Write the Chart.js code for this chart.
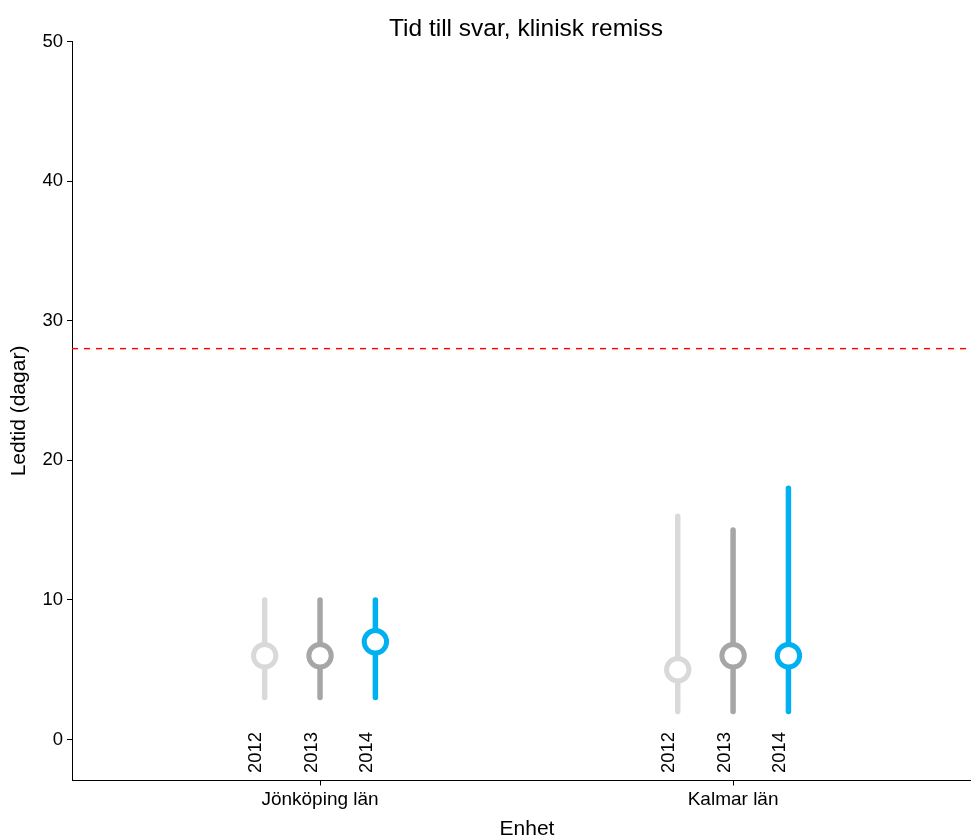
<!DOCTYPE html>
<html>
<head>
<meta charset="utf-8">
<script src="https://cdn.jsdelivr.net/npm/chart.js@4/dist/chart.umd.min.js"></script>
<style>
html,body{margin:0;padding:0;background:#fff;}
#wrap{width:971px;height:840px;position:relative;}
</style>
</head>
<body>
<div id="wrap"><canvas id="c" width="971" height="840"></canvas></div>
<script>
// ---- data ----
const categories = ['Jönköping län', 'Kalmar län'];
const years = ['2012', '2013', '2014'];
const median2012 = [6, 5];
const median2013 = [6, 6];
const median2014 = [7, 6];
const low2012 = [3, 2];
const low2013 = [3, 2];
const low2014 = [3, 2];
const high2012 = [10, 16];
const high2013 = [10, 15];
const high2014 = [10, 18];
const targetDays = 28;
const yTicks = [0, 10, 20, 30, 40, 50];
const titleText = 'Tid till svar, klinisk remiss';
const xTitle = 'Enhet';
const yTitle = 'Ledtid (dagar)';

// ---- styling / layout ----
const colors = ['#d9d9d9', '#a6a6a6', '#00b0f0'];
const offsets = [-0.134, 0, 0.134];
const xMin = 0.3995, xMax = 2.576;
const yMin = -2.937, yMax = 50;
const FONT = '"Liberation Sans", Arial, Helvetica, sans-serif';

const medians = [median2012, median2013, median2014];
const lows = [low2012, low2013, low2014];
const highs = [high2012, high2013, high2014];

const datasets = [];
years.forEach((yr, i) => {
  datasets.push({
    label: yr + ' median',
    data: categories.map((c, k) => ({x: k + 1 + offsets[i], y: medians[i][k]})),
    pointRadius: 11.2, pointHoverRadius: 11.2,
    pointBorderWidth: 5, pointHoverBorderWidth: 5,
    pointBackgroundColor: '#ffffff', pointBorderColor: colors[i],
    backgroundColor: '#ffffff', borderColor: colors[i],
    showLine: false, order: 0
  });
});
years.forEach((yr, i) => {
  const pts = [];
  categories.forEach((c, k) => {
    const x = k + 1 + offsets[i];
    if (k > 0) pts.push({x: x, y: null});
    pts.push({x: x, y: lows[i][k]});
    pts.push({x: x, y: highs[i][k]});
  });
  datasets.push({
    label: yr + ' range',
    data: pts, showLine: true, spanGaps: false,
    borderColor: colors[i], borderWidth: 5.5, borderCapStyle: 'round',
    pointRadius: 0, pointHoverRadius: 0, order: 1
  });
});
datasets.push({
  label: 'target',
  data: [{x: xMin, y: targetDays}, {x: xMax, y: targetDays}],
  showLine: true, borderColor: '#ff0000', borderWidth: 1.4, borderDash: [6, 6],
  pointRadius: 0, pointHoverRadius: 0, order: 2
});

const textPlugin = {
  id: 'texts',
  afterDatasetsDraw(chart) {
    const {ctx, chartArea, scales} = chart;
    const xs = scales.x, ys = scales.y;
    ctx.save();
    ctx.fillStyle = '#000';
    ctx.font = '18.4px ' + FONT;
    ctx.textAlign = 'left';
    ctx.textBaseline = 'alphabetic';
    years.forEach((yr, i) => {
      categories.forEach((c, k) => {
        const px = xs.getPixelForValue(k + 1 + offsets[i]);
        const py = ys.getPixelForValue(-2.4);
        ctx.save();
        ctx.translate(px - 3.5, py);
        ctx.rotate(-Math.PI / 2);
        ctx.fillText(yr, 0, 0);
        ctx.restore();
      });
    });
    ctx.font = '24.5px ' + FONT;
    ctx.textAlign = 'center';
    ctx.fillText(titleText, 526, 36);
    ctx.font = '21px ' + FONT;
    ctx.fillText(xTitle, 527, 835);
    ctx.save();
    ctx.translate(25, (chartArea.top + chartArea.bottom) / 2);
    ctx.rotate(-Math.PI / 2);
    ctx.fillText(yTitle, 0, 0);
    ctx.restore();
    ctx.restore();
  }
};

new Chart(document.getElementById('c'), {
  type: 'scatter',
  data: {datasets: datasets},
  plugins: [textPlugin],
  options: {
    responsive: false,
    animation: false,
    events: [],
    layout: {autoPadding: false, padding: {top: 41.5, right: 0, bottom: 0, left: 0}},
    plugins: {legend: {display: false}, tooltip: {enabled: false}, title: {display: false}},
    scales: {
      x: {
        type: 'linear', min: xMin, max: xMax,
        afterBuildTicks: s => { s.ticks = categories.map((c, k) => ({value: k + 1})); },
        afterFit: s => { s.height = 59.5; },
        ticks: {
          callback: v => categories[Math.round(v) - 1],
          color: '#000', padding: 2.5, maxRotation: 0, autoSkip: false,
          font: {family: FONT, size: 19}
        },
        grid: {display: true, drawOnChartArea: false, drawTicks: true, tickLength: 5, color: '#000', lineWidth: 1},
        border: {display: true, color: '#000', width: 1}
      },
      y: {
        type: 'linear', min: yMin, max: yMax,
        afterBuildTicks: s => { s.ticks = yTicks.map(v => ({value: v})); },
        afterFit: s => { s.width = 72; },
        ticks: {color: '#000', padding: 4, font: {family: FONT, size: 18.5}},
        grid: {display: true, drawOnChartArea: false, drawTicks: true, tickLength: 5, color: '#000', lineWidth: 1},
        border: {display: true, color: '#000', width: 1}
      }
    }
  }
});
</script>
</body>
</html>
